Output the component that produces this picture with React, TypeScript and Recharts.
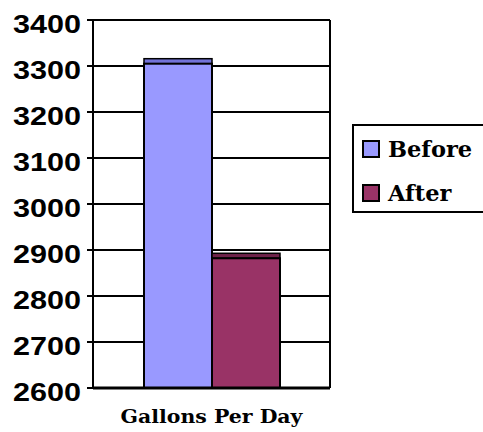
import React from 'react';
import { BarChart, Bar, XAxis, YAxis, CartesianGrid, Legend } from 'recharts';

const categories = ['Gallons Per Day'];
const beforeValues = [3305];
const afterValues = [2882];
const yTicks = [2600, 2700, 2800, 2900, 3000, 3100, 3200, 3300, 3400];
const seriesKeys = ['Before', 'After'];
const seriesColors = ['#9999FF', '#993366'];
const seriesTopColors = ['#7373d9', '#6e2349'];

const data = categories.map((name, i) => ({
  name,
  Before: beforeValues[i],
  After: afterValues[i],
}));

// column with a thin "3D" lid on top, like the old Excel chart
function makeColumn(topColor: string) {
  return (props: any) => {
    const { x, y, width, height, fill } = props;
    return (
      <g>
        <rect x={x} y={y - 5} width={width} height={5} fill={topColor} stroke="#000" strokeWidth={1.5} />
        <rect x={x} y={y} width={width} height={height} fill={fill} stroke="#000" strokeWidth={2} />
      </g>
    );
  };
}

function YTick(props: any) {
  const { x, y, payload } = props;
  return (
    <text
      x={x}
      y={y}
      dy={13}
      textAnchor="end"
      fontFamily="Liberation Sans"
      fontWeight="bold"
      fontSize={25}
      textLength={68}
      lengthAdjust="spacingAndGlyphs"
      fill="#000"
    >
      {payload.value}
    </text>
  );
}

function XTick(props: any) {
  const { x, payload } = props;
  return (
    <text
      x={x}
      y={423}
      textAnchor="middle"
      fontFamily="DejaVu Serif"
      fontWeight="bold"
      fontSize={19}
      textLength={182}
      lengthAdjust="spacingAndGlyphs"
      fill="#000"
    >
      {payload.value}
    </text>
  );
}

function LegendBox() {
  return (
    <div style={{ position: 'relative', width: 135, height: 89, border: '2px solid #000', boxSizing: 'border-box', background: '#fff' }}>
      {seriesKeys.map((key, i) => (
        <div key={key} style={{ position: 'absolute', left: 8, top: 1 + i * 44, height: 44, display: 'flex', alignItems: 'center' }}>
          <span style={{ display: 'inline-block', width: 14, height: 14, background: seriesColors[i], border: '2px solid #000' }} />
          <span style={{ marginLeft: 8, fontFamily: 'DejaVu Serif', fontWeight: 'bold', fontSize: 22.5, color: '#000' }}>{key}</span>
        </div>
      ))}
    </div>
  );
}

export default function App() {
  return (
    <div style={{ position: 'absolute', left: 0, top: 0, width: 483, height: 432, overflow: 'hidden', background: '#fff' }}>
      <BarChart
        width={483}
        height={432}
        data={data}
        margin={{ top: 20, right: 153, bottom: 0, left: 0 }}
        barGap={0}
        barSize={68}
      >
        <CartesianGrid
          stroke="#000"
          strokeWidth={2}
          verticalCoordinatesGenerator={({ offset }: any) => [offset.left + offset.width]}
        />
        <XAxis dataKey="name" height={44} tickLine={false} axisLine={{ stroke: '#000', strokeWidth: 3 }} tick={<XTick />} />
        <YAxis
          domain={[2600, 3400]}
          ticks={yTicks}
          width={93}
          interval={0}
          tickSize={6}
          tickMargin={6}
          axisLine={{ stroke: '#000', strokeWidth: 2 }}
          tickLine={{ stroke: '#000', strokeWidth: 2 }}
          tick={<YTick />}
          allowDataOverflow
        />
        <Legend
          layout="vertical"
          align="center"
          verticalAlign="middle"
          wrapperStyle={{ left: 352, top: 124, width: 135 }}
          content={<LegendBox />}
        />
        {seriesKeys.map((key, i) => (
          <Bar
            key={key}
            dataKey={key}
            fill={seriesColors[i]}
            isAnimationActive={false}
            shape={makeColumn(seriesTopColors[i])}
          />
        ))}
      </BarChart>
    </div>
  );
}
